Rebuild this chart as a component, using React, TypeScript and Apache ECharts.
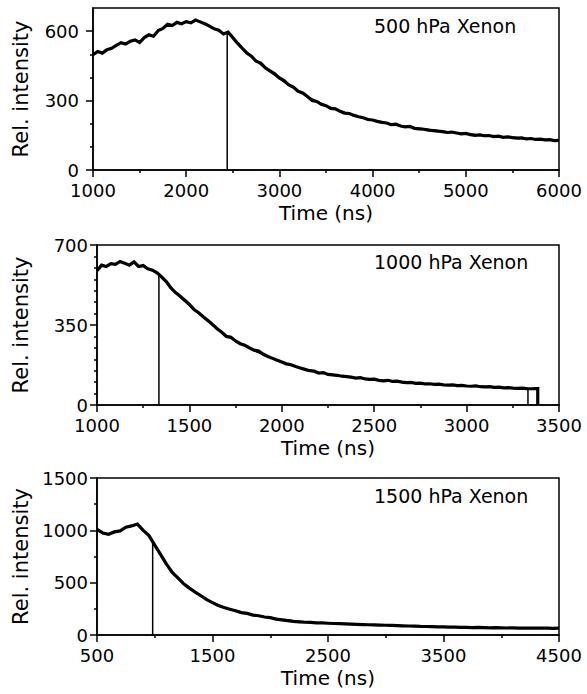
import React, { useEffect, useRef } from "react";
import * as echarts from "echarts";

// ---------- Panel 1: 500 hPa Xenon ----------
const p1Start = 1000;
const p1Step = 50;
const p1Values = [
  498, 512, 505, 520, 526, 538, 550, 544, 556, 562, 551, 572, 584, 578, 603, 612, 630, 624, 638, 632,
  641, 636, 648, 640, 632, 622, 610, 604, 588, 596, 572, 548, 526, 505, 492, 470, 462, 441, 428, 416,
  398, 386, 368, 358, 340, 333, 318, 300, 296, 284, 278, 266, 264, 254, 246, 244, 236, 230, 226, 218,
  216, 210, 206, 203, 196, 198, 190, 186, 188, 180, 178, 176, 172, 170, 168, 166, 162, 164, 160, 156,
  158, 153, 150, 152, 148, 149, 144, 146, 141, 143, 140, 138, 139, 134, 136, 132, 133, 130, 131, 127, 128,
];
const p1Fit = [
  [2440, 0], [2440, 592], [2500, 574], [2600, 530], [2700, 490], [2800, 455], [2900, 424], [3000, 395],
  [3100, 367], [3200, 342], [3300, 318], [3400, 297], [3500, 278], [3600, 262], [3800, 236], [4000, 215],
  [4250, 195], [4500, 180], [4750, 167], [5000, 157], [5250, 148], [5500, 141], [5750, 134], [6000, 128],
];
const p1XLabels = [1000, 2000, 3000, 4000, 5000, 6000];
const p1XMinor = [1500, 2500, 3500, 4500, 5500];
const p1YLabels = [0, 300, 600];
const p1YMinor = [100, 200, 400, 500];

// ---------- Panel 2: 1000 hPa Xenon ----------
const p2Start = 1000;
const p2Step = 25;
const p2Values = [
  588, 612, 606, 618, 615, 628, 620, 612, 626, 606, 610, 596, 590, 578, 560, 540, 512, 492, 476, 458,
  440, 418, 404, 386, 370, 352, 334, 318, 300, 296, 280, 268, 262, 250, 240, 236, 222, 212, 204, 196,
  188, 180, 176, 168, 162, 156, 150, 148, 140, 142, 134, 132, 130, 126, 124, 122, 118, 120, 114, 112,
  113, 108, 106, 108, 103, 104, 100, 98, 99, 95, 96, 92, 93, 90, 91, 88, 87, 88, 85, 86,
  83, 82, 84, 80, 79, 80, 77, 78, 75, 76, 74, 73, 74, 72, 71, 72,
];
const p2End = [[3385, 72], [3385, 0]];
const p2Fit = [
  [1335, 0], [1335, 574], [1350, 562], [1400, 512], [1450, 472], [1500, 436], [1550, 400], [1600, 366],
  [1650, 334], [1700, 305], [1750, 280], [1800, 258], [1850, 238], [1900, 220], [2000, 188], [2100, 162],
  [2200, 142], [2300, 128], [2400, 118], [2500, 110], [2600, 103], [2700, 97], [2800, 92], [2900, 87],
  [3000, 83], [3100, 79], [3200, 76], [3300, 73], [3332, 72], [3332, 0],
];
const p2XLabels = [1000, 1500, 2000, 2500, 3000, 3500];
const p2XMinor = [1250, 1750, 2250, 2750, 3250];
const p2YLabels = [0, 350, 700];
const p2YMinor = [50, 100, 150, 200, 250, 300, 400, 450, 500, 550, 600, 650];

// ---------- Panel 3: 1500 hPa Xenon ----------
const p3Start = 500;
const p3Step = 50;
const p3Values = [
  1010, 975, 962, 985, 995, 1030, 1042, 1060, 1000, 950, 858, 770, 680, 600, 545, 490, 448, 410, 375, 338,
  310, 282, 262, 246, 232, 214, 206, 190, 184, 172, 166, 152, 144, 138, 130, 126, 122, 120, 116, 115,
  112, 110, 108, 107, 104, 102, 100, 98, 96, 95, 93, 92, 90, 88, 86, 85, 82, 81, 80, 78,
  77, 75, 75, 73, 72, 71, 72, 70, 69, 70, 68, 67, 68, 66, 67, 65, 66, 65, 66, 64, 65,
];
const p3Fit = [
  [982, 0], [982, 890], [1000, 860], [1050, 765], [1100, 678], [1150, 602], [1200, 540], [1300, 445],
  [1400, 372], [1500, 310], [1600, 263], [1700, 230], [1800, 204], [1900, 184], [2000, 166], [2200, 136],
  [2400, 117], [2600, 107], [2800, 99], [3000, 92], [3250, 84], [3500, 77], [4000, 68], [4500, 65],
];
const p3XLabels = [500, 1500, 2500, 3500, 4500];
const p3XMinor = [1000, 2000, 3000, 4000];
const p3YLabels = [0, 500, 1000, 1500];
const p3YMinor = [250, 750, 1250];

const panelTitles = ["500 hPa Xenon", "1000 hPa Xenon", "1500 hPa Xenon"];

const FONT = "DejaVu Sans";

function sampled(start: number, step: number, vals: number[]) {
  return vals.map((v, i) => [start + step * i, v]);
}

export default function App() {
  const ref = useRef<HTMLDivElement>(null);
  useEffect(() => {
    document.body.style.margin = "0";
    if (!ref.current) return;
    const chart = echarts.init(ref.current, undefined, { renderer: "svg" });

    const panels = [
      {
        grid: { left: 93, right: 28, top: 8, height: 162 },
        x: [1000, 6000], y: [0, 700],
        xl: p1XLabels, xm: p1XMinor, yl: p1YLabels, ym: p1YMinor,
        ylm: 14, yng: 62,
        data: sampled(p1Start, p1Step, p1Values), fit: p1Fit,
        titleTop: 16,
      },
      {
        grid: { left: 97, right: 28, top: 245, height: 160 },
        x: [1000, 3500], y: [0, 700],
        xl: p2XLabels, xm: p2XMinor, yl: p2YLabels, ym: p2YMinor,
        ylm: 9, yng: 66,
        data: [...sampled(p2Start, p2Step, p2Values), ...p2End], fit: p2Fit,
        titleTop: 252,
      },
      {
        grid: { left: 97, right: 28, top: 478, height: 157 },
        x: [500, 4500], y: [0, 1500],
        xl: p3XLabels, xm: p3XMinor, yl: p3YLabels, ym: p3YMinor,
        ylm: 9, yng: 66,
        data: sampled(p3Start, p3Step, p3Values), fit: p3Fit,
        titleTop: 486,
      },
    ];

    const grids: any[] = [];
    const xAxes: any[] = [];
    const yAxes: any[] = [];
    const series: any[] = [];
    const graphics: any[] = [];
    const plain = (v: number) => String(v);

    panels.forEach((p, i) => {
      grids.push({ ...p.grid, show: true, borderColor: "#000", borderWidth: 1.5, backgroundColor: "transparent" });
      xAxes.push({
        type: "value", gridIndex: i, min: p.x[0], max: p.x[1], position: "bottom",
        name: "Time (ns)", nameLocation: "middle", nameGap: 33,
        nameTextStyle: { fontSize: 20, lineHeight: 20, fontFamily: FONT, color: "#000" },
        axisLine: { show: true, onZero: false, lineStyle: { color: "#000", width: 1.5 } },
        axisTick: { show: true, inside: false, length: 7, customValues: p.xl, lineStyle: { color: "#000", width: 1.5 } },
        axisLabel: { show: true, customValues: p.xl, formatter: plain, margin: 12, fontSize: 18, lineHeight: 17, fontFamily: FONT, color: "#000" },
        splitLine: { show: false },
      });
      xAxes.push({
        type: "value", gridIndex: i, min: p.x[0], max: p.x[1], position: "bottom",
        axisLine: { show: false, onZero: false },
        axisTick: { show: true, inside: false, length: 3, customValues: p.xm, lineStyle: { color: "#000", width: 1.5 } },
        axisLabel: { show: false },
        splitLine: { show: false },
      });
      yAxes.push({
        type: "value", gridIndex: i, min: p.y[0], max: p.y[1], position: "left",
        name: "Rel. intensity", nameLocation: "middle", nameGap: p.yng,
        nameTextStyle: { fontSize: 21, fontFamily: FONT, color: "#000" },
        axisLine: { show: true, onZero: false, lineStyle: { color: "#000", width: 1.5 } },
        axisTick: { show: true, inside: false, length: 7, customValues: p.yl, lineStyle: { color: "#000", width: 1.5 } },
        axisLabel: { show: true, customValues: p.yl, formatter: plain, margin: p.ylm, fontSize: 18, lineHeight: 17, fontFamily: FONT, color: "#000" },
        splitLine: { show: false },
      });
      yAxes.push({
        type: "value", gridIndex: i, min: p.y[0], max: p.y[1], position: "left",
        axisLine: { show: false, onZero: false },
        axisTick: { show: true, inside: false, length: 3, customValues: p.ym, lineStyle: { color: "#000", width: 1.5 } },
        axisLabel: { show: false },
        splitLine: { show: false },
      });
      series.push({
        type: "line", xAxisIndex: 2 * i, yAxisIndex: 2 * i, data: p.data,
        showSymbol: false, symbol: "none", lineStyle: { color: "#000", width: 3.2, join: "miter" }, z: 3,
      });
      series.push({
        type: "line", xAxisIndex: 2 * i, yAxisIndex: 2 * i, data: p.fit,
        showSymbol: false, symbol: "none", lineStyle: { color: "#000", width: 1.5 }, z: 4,
      });
      graphics.push({
        type: "text", left: 374, top: p.titleTop,
        style: { text: panelTitles[i], font: `19px "${FONT}"`, fill: "#000" },
      });
    });

    chart.setOption({
      animation: false,
      backgroundColor: "#fff",
      textStyle: { fontFamily: FONT },
      grid: grids,
      xAxis: xAxes,
      yAxis: yAxes,
      series,
      graphic: graphics,
    });
    return () => chart.dispose();
  }, []);
  return <div ref={ref} style={{ width: 587, height: 694 }} />;
}
